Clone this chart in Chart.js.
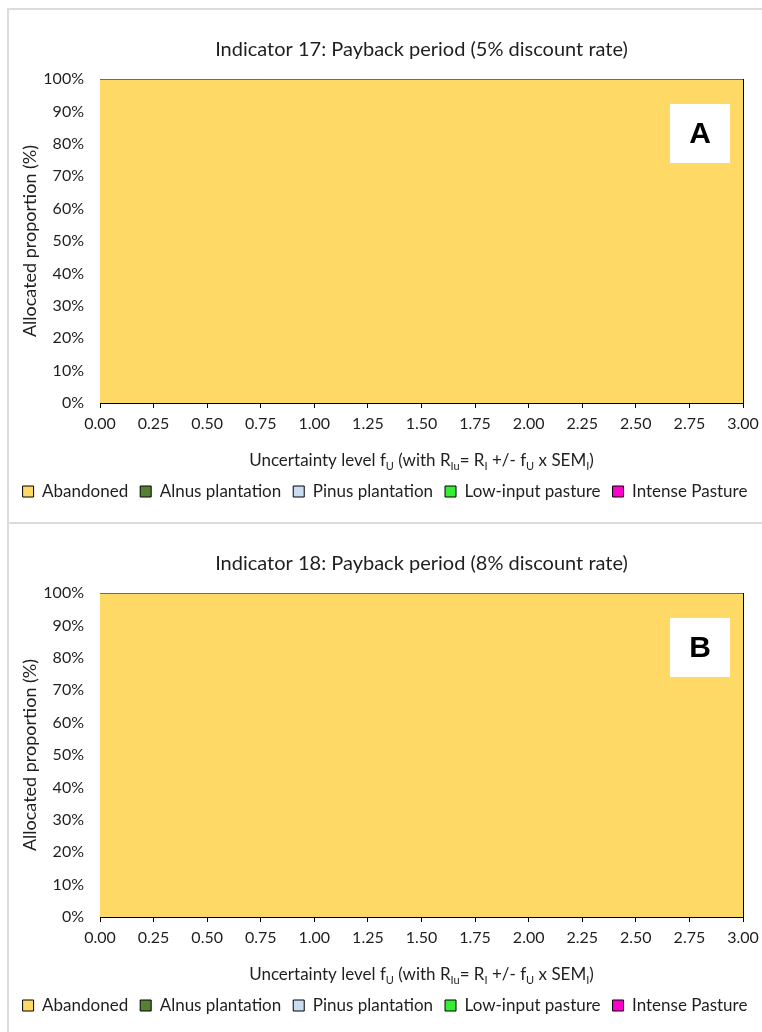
<!DOCTYPE html>
<html>
<head>
<meta charset="utf-8">
<script src="https://cdn.jsdelivr.net/npm/chart.js@4.4.1/dist/chart.umd.min.js"></script>
<style>
  html, body { margin: 0; padding: 0; background: #fff; }
  body { width: 762px; height: 1032px; position: relative; overflow: hidden; }
  .panel { position: absolute; left: 7px; width: 820px; border: 2px solid #dcdcdc; box-sizing: border-box; }
  #panelA { top: 8px; height: 516px; }
  #panelB { top: 522px; height: 560px; }
  canvas { position: absolute; }
</style>
</head>
<body>
<div class="panel" id="panelA"></div>
<div class="panel" id="panelB"></div>
<canvas id="chartA" width="754" height="514" style="left:8px;top:9px"></canvas>
<canvas id="chartB" width="754" height="514" style="left:8px;top:523px"></canvas>
<script>
// Uncertainty levels f_U along the x axis
const xTickLabels = ['0.00', '0.25', '0.50', '0.75', '1.00', '1.25', '1.50',
                     '1.75', '2.00', '2.25', '2.50', '2.75', '3.00'];

// Land-use options and their colours
const seriesNames  = ['Abandoned', 'Alnus plantation', 'Pinus plantation', 'Low-input pasture', 'Intense Pasture'];
const seriesColors = ['#FFD966', '#548235', '#C9DCF0', '#33EE33', '#FF00CC'];

// Indicator 17: payback period, 5% discount rate (allocated share, %)
const ind17Abandoned = [100, 100, 100, 100, 100, 100, 100, 100, 100, 100, 100, 100, 100];
const ind17Alnus     = [0, 0, 0, 0, 0, 0, 0, 0, 0, 0, 0, 0, 0];
const ind17Pinus     = [0, 0, 0, 0, 0, 0, 0, 0, 0, 0, 0, 0, 0];
const ind17LowInput  = [0, 0, 0, 0, 0, 0, 0, 0, 0, 0, 0, 0, 0];
const ind17Intense   = [0, 0, 0, 0, 0, 0, 0, 0, 0, 0, 0, 0, 0];

// Indicator 18: payback period, 8% discount rate (allocated share, %)
const ind18Abandoned = [100, 100, 100, 100, 100, 100, 100, 100, 100, 100, 100, 100, 100];
const ind18Alnus     = [0, 0, 0, 0, 0, 0, 0, 0, 0, 0, 0, 0, 0];
const ind18Pinus     = [0, 0, 0, 0, 0, 0, 0, 0, 0, 0, 0, 0, 0];
const ind18LowInput  = [0, 0, 0, 0, 0, 0, 0, 0, 0, 0, 0, 0, 0];
const ind18Intense   = [0, 0, 0, 0, 0, 0, 0, 0, 0, 0, 0, 0, 0];

const FONT = 'Lato, "Open Sans", sans-serif';
const TEXT_COLOR = '#1f1f1f';

// Panel letter in a white box at the upper right of the plot
const panelLetterPlugin = {
  id: 'panelLetter',
  afterDatasetsDraw(chart, args, opts) {
    const { ctx, chartArea } = chart;
    const w = 60, h = 59;
    const x = chartArea.right - 13 - w;
    const y = chartArea.top + 25;
    ctx.save();
    ctx.fillStyle = '#ffffff';
    ctx.fillRect(x, y, w, h);
    ctx.fillStyle = '#000000';
    ctx.font = 'bold 30px "Liberation Sans", Arial, sans-serif';
    ctx.textAlign = 'center';
    ctx.textBaseline = 'middle';
    ctx.fillText(opts.text, x + w / 2, y + h / 2 + 1);
    ctx.restore();
  }
};

// X axis title with subscripts
const xTitlePlugin = {
  id: 'xTitle',
  afterDraw(chart, args, opts) {
    const { ctx, chartArea } = chart;
    const parts = [
      ['Uncertainty level f', false], ['U', true],
      [' (with R', false], ['Iu', true],
      ['= R', false], ['I', true],
      [' +/- f', false], ['U', true],
      [' x SEM', false], ['I', true],
      [')', false]
    ];
    const mainFont = '17px ' + FONT;
    const subFont = '11px ' + FONT;
    ctx.save();
    let total = 0;
    for (const [t, sub] of parts) {
      ctx.font = sub ? subFont : mainFont;
      total += ctx.measureText(t).width;
    }
    let x = (chartArea.left + chartArea.right) / 2 - total / 2;
    const y = chartArea.bottom + opts.offset;
    ctx.fillStyle = TEXT_COLOR;
    ctx.textBaseline = 'middle';
    ctx.textAlign = 'left';
    for (const [t, sub] of parts) {
      ctx.font = sub ? subFont : mainFont;
      ctx.fillText(t, x, sub ? y + 5 : y);
      x += ctx.measureText(t).width;
    }
    ctx.restore();
  }
};

function buildChart(canvasId, titleText, letter, series) {
  const lastIndex = xTickLabels.length - 1;
  return new Chart(document.getElementById(canvasId), {
    type: 'line',
    data: {
      labels: xTickLabels,
      datasets: series.map((values, i) => ({
        label: seriesNames[i],
        data: values,
        backgroundColor: seriesColors[i],
        borderColor: '#000000',
        borderWidth: 1,
        fill: i === 0 ? 'origin' : '-1',
        pointRadius: 0,
        pointHoverRadius: 0,
        tension: 0
      }))
    },
    options: {
      responsive: false,
      animation: false,
      devicePixelRatio: 1,
      layout: { padding: { left: 0, right: 0, top: 0, bottom: 13 } },
      plugins: {
        title: {
          display: true,
          text: titleText,
          fullSize: false,
          color: TEXT_COLOR,
          font: { family: FONT, size: 20, weight: 'normal' },
          padding: { top: 29, bottom: 17 }
        },
        legend: {
          position: 'bottom',
          labels: {
            boxWidth: 11,
            boxHeight: 11,
            padding: 12,
            color: TEXT_COLOR,
            font: { family: FONT, size: 17 }
          }
        },
        tooltip: { enabled: false },
        panelLetter: { text: letter },
        xTitle: { offset: 58 }
      },
      scales: {
        x: {
          ticks: {
            color: TEXT_COLOR,
            font: { family: FONT, size: 16 },
            padding: 6,
            autoSkip: false,
            maxRotation: 0
          },
          grid: {
            color: c => (c.index === 0 || c.index === lastIndex) ? '#000000' : 'rgba(0,0,0,0)',
            tickColor: '#000000',
            tickLength: 5,
            lineWidth: 1
          },
          border: { display: true, color: '#000000', width: 1 },
          // fixed axis band height; keep room on the right for the last tick label
          afterFit: s => { s.height = 68; s.paddingLeft = 0; s.paddingRight = 19; }
        },
        y: {
          stacked: true,
          min: 0,
          max: 100,
          ticks: {
            stepSize: 10,
            color: TEXT_COLOR,
            font: { family: FONT, size: 16 },
            padding: 16,
            callback: v => v + '%'
          },
          grid: { color: 'rgba(0,0,0,0)', drawTicks: false },
          border: { display: true, color: '#000000', width: 1 },
          title: {
            display: true,
            text: 'Allocated proportion (%)',
            color: TEXT_COLOR,
            font: { family: FONT, size: 18 },
            padding: { top: 11, bottom: 0 }
          },
          afterFit: s => { s.width = 92; }
        }
      }
    },
    plugins: [panelLetterPlugin, xTitlePlugin]
  });
}

buildChart('chartA', 'Indicator 17: Payback period (5% discount rate)', 'A',
  [ind17Abandoned, ind17Alnus, ind17Pinus, ind17LowInput, ind17Intense]);
buildChart('chartB', 'Indicator 18: Payback period (8% discount rate)', 'B',
  [ind18Abandoned, ind18Alnus, ind18Pinus, ind18LowInput, ind18Intense]);
</script>
</body>
</html>
